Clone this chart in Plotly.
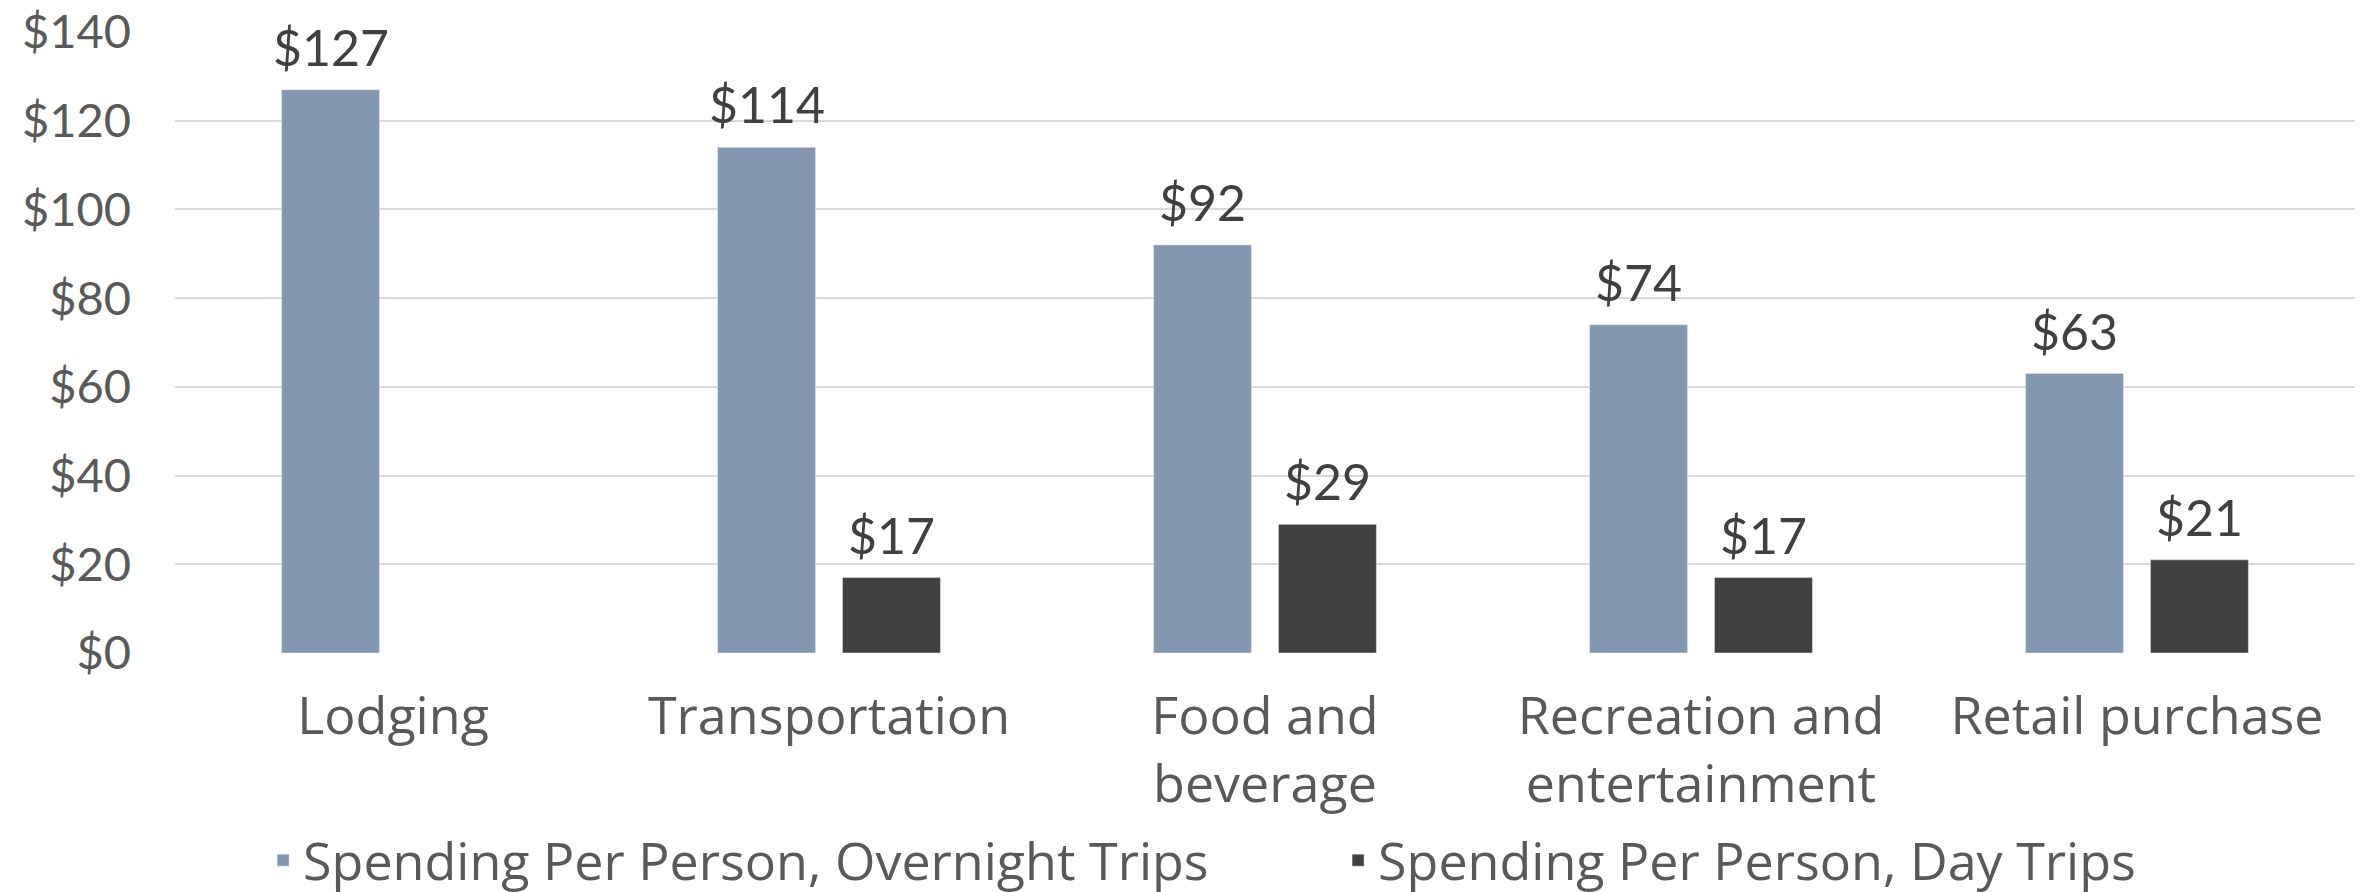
import plotly.graph_objects as go

categories = ["Lodging", "Transportation", "Food and<br>beverage",
              "Recreation and<br>entertainment", "Retail purchase"]
overnight = [127, 114, 92, 74, 63]
day_trips = [None, 17, 29, 17, 21]
series_names = ["Spending Per Person, Overnight Trips", "Spending Per Person, Day Trips"]
y_ticks = [0, 20, 40, 60, 80, 100, 120, 140]

FONT = "Open Sans"
NUM_FONT = "Lato"
colors = ["#8497B0", "#404040"]

fig = go.Figure()
for name, vals, col in zip(series_names, [overnight, day_trips], colors):
    fig.add_trace(go.Bar(
        x=categories, y=vals, name=name,
        marker=dict(color=col),
    ))

# value labels sit a bit higher above the bars than plotly's default padding
for vals, shift in [(overnight, -62.5), (day_trips, 62.5)]:
    for cat, v in zip(categories, vals):
        if v is None:
            continue
        fig.add_annotation(
            x=cat, y=v, text=f"${v}", showarrow=False,
            xshift=shift, yshift=11, yanchor="bottom",
            font=dict(family=NUM_FONT, size=50, color="#404040"),
        )

# the page body adds an 8px margin, so margins are shifted by that much
fig.update_layout(
    width=2367, height=892,
    margin=dict(l=167, r=20, t=24, b=247, autoexpand=False),
    paper_bgcolor="white", plot_bgcolor="white",
    barmode="group", bargap=0.427, bargroupgap=0.216,
    font=dict(family=FONT, color="#595959"),
    showlegend=True,
    legend=dict(
        orientation="h", x=0.0404, xanchor="left", y=-0.334, yanchor="middle",
        font=dict(family=FONT, size=52, color="#595959"),
        entrywidth=1030, entrywidthmode="pixels",
        bgcolor="rgba(0,0,0,0)",
    ),
    xaxis=dict(
        tickfont=dict(family=FONT, size=52, color="#595959"),
        showgrid=False, showline=False, ticks="", ticklabelstandoff=28,
    ),
    yaxis=dict(
        range=[0, 140], tickvals=y_ticks,
        ticktext=[f"${t}" for t in y_ticks],
        tickfont=dict(family=NUM_FONT, size=47, color="#595959"),
        showgrid=True, gridcolor="#D9D9D9", gridwidth=2,
        zeroline=False, showline=False, ticks="", ticklabelstandoff=43,
        ticklabeloverflow="allow",
    ),
)

fig.write_html("out.html")
